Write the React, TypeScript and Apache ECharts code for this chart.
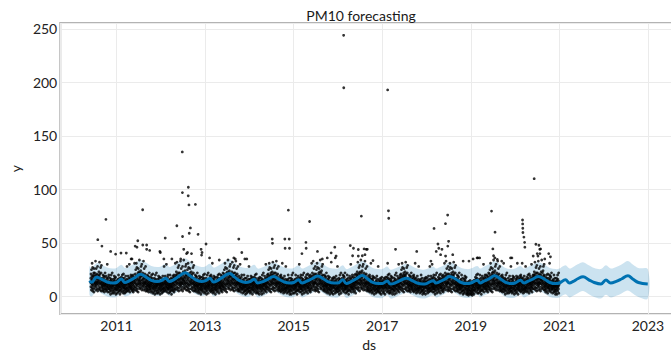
import React, { useEffect, useRef } from "react";
import * as echarts from "echarts";

const TITLE = "PM10 forecasting";
const X_NAME = "ds";
const Y_NAME = "y";
const X_TICK_YEARS = [2011, 2013, 2015, 2017, 2019, 2021, 2023];
const Y_TICKS = [0, 50, 100, 150, 200, 250];

// Monthly blocks of daily readings (24 per month), base-36 digits (0..35)
const W1 = "7c4a9eh6b2f8dk5g9ca7m3eb";
const W2 = "a5d8g3cb6ej9f4h7bc8i2da6";
const W3 = "8b6e3fa9c7gd4k8b5ae9h6c2";
const W4 = "9d5bh7c3ea8f6jb4d7c9g5s8";
const W5 = "6a9c4fd8b3e7hc5a9g2db8ie";
const M1 = "9d6fb8i4cgae7kd5h9bf3ld8";
const M2 = "bf7dj5ce9ha6uc8g4eb9id7k";
const M3 = "a8gc6e9jd5hb7fk4cia8e6gv";
const M4 = "ce9ha7f5kb8dg6jca4ie9bm7";
const S1 = "dh9lf6pcj8vbgr5iae7kmc4q";
const S2 = "fj8mdagcxh6kbqe9ildc7gs5";
const S3 = "eibkg7ndj9wfcl6h8rgdmb5t";
const S4 = "gkcnf9yeib7mhd8ofscjaku6";
const L1 = "3a5c28b47d1e69a3c5b8f2d6";

const BULK_YEARS = [2010, 2011, 2012, 2013, 2014, 2015, 2016, 2017, 2018, 2019, 2020];
const BULK_FIRST_MONTH = [6, 1, 1, 1, 1, 1, 1, 1, 1, 1, 1];
const BULK_MONTHS: string[][] = [
  [S1, S2, S3, M4, M2, W1, W2],
  [W3, M1, W4, M2, M3, S1, S4, S2, M4, M1, W1, W2],
  [W4, M2, W3, M3, S3, S2, S4, S1, S3, M4, W2, M1],
  [W1, M3, W2, M1, M4, S1, S4, S3, S2, M2, W3, W4],
  [W2, M1, W5, W1, M2, S1, S3, S2, M3, W4, W3, W1],
  [W3, M2, W1, M1, M3, S2, S1, S4, M4, W2, W5, W4],
  [W1, M4, W3, M2, M1, S3, S4, S2, M3, W2, W4, W5],
  [W5, M1, W2, W1, M2, S1, S3, M4, M3, W4, W3, W5],
  [W4, M2, W1, M1, M3, S2, S1, S3, M4, W3, W2, L1],
  [L1, M1, W3, M2, M4, S1, S4, S2, M3, W1, W4, W2],
  [W2, M3, W4, M1, M2, S3, S2, S4, M1, M4, W3, W1],
];

// Readings above the dense cloud
const OUTLIER_DATES = [
  "2010-07-30", "2010-09-02", "2010-10-05", "2010-12-24", "2011-02-06", "2011-03-22", "2011-05-01", "2011-06-03",
  "2011-06-25", "2011-08-04", "2011-09-06", "2011-10-01", "2011-12-24", "2011-12-28", "2012-02-06", "2012-05-12",
  "2012-06-28", "2012-06-27", "2012-06-26", "2012-08-15", "2012-08-14", "2012-08-20", "2012-10-12", "2012-09-01",
  "2012-08-22", "2012-08-08", "2012-07-08", "2012-11-03", "2012-12-06", "2013-01-08", "2012-12-02", "2013-02-06",
  "2013-04-27", "2013-10-05", "2013-10-30", "2013-08-25", "2013-11-24", "2014-07-08", "2014-07-10", "2014-10-20",
  "2014-11-25", "2014-10-22", "2014-11-27", "2014-11-18", "2015-03-10", "2015-04-12", "2015-04-14", "2015-05-12",
  "2015-07-16", "2015-11-06", "2015-12-06", "2015-12-10", "2016-02-17", "2016-02-18", "2016-04-12", "2016-05-01",
  "2016-06-17", "2016-07-12", "2016-07-20", "2016-08-04", "2016-08-11", "2016-08-22", "2017-02-14", "2017-02-21",
  "2017-02-23", "2017-04-20", "2017-10-12", "2018-03-04", "2018-04-05", "2018-04-12", "2018-03-22", "2018-04-27",
  "2018-06-06", "2018-06-24", "2018-07-02", "2018-06-25", "2018-08-05", "2019-03-01", "2019-06-21", "2019-07-20",
  "2019-07-02", "2019-07-08", "2019-08-08", "2019-12-06", "2020-03-03", "2020-03-04", "2020-03-05", "2020-03-06",
  "2020-03-14", "2020-03-20", "2020-03-22", "2020-06-07", "2020-07-16", "2020-07-30", "2020-07-24", "2020-07-08",
  "2020-10-05", "2020-10-19",
];
const OUTLIER_VALUES = [
  53, 47, 72, 39.5, 40.5, 40.5, 35, 47,
  52, 81, 48, 43, 42, 41, 54.5, 66,
  56, 97, 135, 102, 94, 85.5, 86, 64,
  59, 41, 44, 58, 41, 49, 38.6, 36,
  34, 53.6, 41, 36, 35, 53.6, 49.6, 53.6,
  53.6, 45, 45, 80.6, 40, 50.5, 45, 70,
  42, 40.7, 46, 36, 244, 195, 47.5, 38,
  43.8, 75, 38, 44.4, 39, 44, 193, 80,
  73, 44, 42, 63.5, 49, 45, 42, 39,
  68, 76, 51.5, 47, 39, 36, 79.7, 60,
  44.4, 38, 34.6, 36, 71.4, 67.7, 63.7, 59.7,
  55.4, 50.5, 46, 110, 47.8, 44.4, 40, 37.7,
  40, 37,
];

// Scattered readings just above the dense cloud (30-50)
const MID_DATES = [
  "2010-11-13", "2011-05-08", "2011-06-18", "2011-08-05", "2011-09-06", "2012-01-26", "2012-04-01", "2012-06-13",
  "2012-07-31", "2012-09-10", "2012-11-28", "2013-09-06", "2013-12-10", "2015-08-25", "2015-10-05", "2015-11-07",
  "2015-12-17", "2016-05-08", "2016-06-17", "2016-08-30", "2016-10-16", "2017-02-14", "2018-02-06", "2018-05-08",
  "2018-06-07", "2018-10-30", "2018-12-17", "2019-01-20", "2019-02-22", "2019-03-15", "2019-07-19", "2019-09-13",
  "2019-11-25", "2020-01-20", "2020-06-21", "2020-07-23", "2020-09-02", "2020-10-12", "2020-05-30", "2020-07-02",
];
const MID_VALUES = [
  42, 35, 46, 48, 44, 35, 35, 35,
  40, 40, 44, 35, 35, 35, 36, 32,
  37.7, 45, 37.7, 44, 33.5, 31, 33, 44,
  37.7, 33, 33, 35, 36, 36, 36, 33,
  36, 31, 48.7, 44, 35, 31, 37.7, 40,
];

// Fitted / forecast values (yhat) and interval bounds
const FC_DATES = [
  "2010-05-22", "2010-06-10", "2010-07-20", "2010-09-01", "2010-10-15", "2010-12-01",
  "2011-01-01", "2011-02-10", "2011-03-10", "2011-04-15", "2011-06-01", "2011-07-15", "2011-09-01", "2011-10-15", "2011-12-01",
  "2012-01-01", "2012-02-10", "2012-03-10", "2012-04-15", "2012-06-01", "2012-07-20", "2012-09-01", "2012-10-15", "2012-12-01",
  "2013-01-01", "2013-02-10", "2013-03-10", "2013-04-15", "2013-06-01", "2013-07-20", "2013-09-01", "2013-10-15", "2013-12-01",
  "2014-01-01", "2014-02-10", "2014-03-10", "2014-04-15", "2014-06-01", "2014-07-20", "2014-09-01", "2014-10-15", "2014-12-01",
  "2015-01-01", "2015-02-10", "2015-03-10", "2015-04-15", "2015-06-01", "2015-07-20", "2015-09-01", "2015-10-15", "2015-12-01",
  "2016-01-01", "2016-02-10", "2016-03-10", "2016-04-15", "2016-06-01", "2016-07-20", "2016-09-01", "2016-10-15", "2016-12-01",
  "2017-01-01", "2017-02-10", "2017-03-10", "2017-04-15", "2017-06-01", "2017-07-20", "2017-09-01", "2017-10-15", "2017-12-01",
  "2018-01-01", "2018-02-25", "2018-03-20", "2018-04-15", "2018-06-01", "2018-07-10", "2018-09-01", "2018-10-15", "2018-12-01",
  "2019-01-01", "2019-02-25", "2019-03-20", "2019-04-15", "2019-06-01", "2019-07-15", "2019-09-01", "2019-10-15", "2019-12-01",
  "2020-01-01", "2020-02-15", "2020-03-15", "2020-04-15", "2020-06-01", "2020-07-10", "2020-09-01", "2020-10-15", "2020-12-01",
  "2021-01-01", "2021-02-20", "2021-03-25", "2021-04-25", "2021-06-01", "2021-07-15", "2021-09-01", "2021-10-15", "2021-12-10",
  "2022-01-20", "2022-02-28", "2022-04-15", "2022-06-01", "2022-07-20", "2022-09-01", "2022-10-15", "2022-12-31",
];
const FC_YHAT = [
  14.7, 13.2, 17.8, 16, 13.5, 12.5,
  13, 16.3, 13, 14.5, 17.5, 20.8, 18, 15, 14,
  14.5, 17, 14, 15.5, 19, 22, 19, 15.5, 14,
  14.5, 17, 13.5, 15, 18.5, 21.5, 18, 14.5, 13,
  13.5, 16, 12.5, 13.5, 16, 18.5, 16, 13.5, 12.5,
  13, 15.5, 12.5, 14, 16.5, 19, 16.5, 13.5, 12.5,
  12.5, 15.5, 12, 13.5, 16.5, 19.5, 16.5, 13, 12,
  12, 14.5, 11.5, 12.5, 15, 17, 15, 12.5, 11.5,
  12, 14.7, 12.5, 13.5, 16, 18.7, 16, 13, 12,
  12.5, 15, 12.5, 14, 16.5, 19.3, 16.5, 13, 12,
  12.5, 15, 12.5, 14, 16.5, 18.7, 16, 13, 12,
  12.5, 15.5, 12.5, 14, 16.5, 18.4, 15.5, 13, 11.6,
  15.3, 12.5, 14, 16.5, 19.3, 16, 13, 11.6,
];
const FC_LOWER = [
  1.5, 0, 4.5, 2.5, 0, -1,
  -0.5, 3, 0, 1, 4, 7.5, 4.5, 1.5, 0.5,
  1, 3.5, 0.5, 2, 5.5, 8.5, 5.5, 2, 0.5,
  1, 3.5, 0, 1.5, 5, 8, 4.5, 1, -0.5,
  0, 2.5, -1, 0, 2.5, 5, 2.5, 0, -1,
  -0.5, 2, -1, 0.5, 3, 5.5, 3, 0, -1,
  -1, 2, -1.5, 0, 3, 6, 3, -0.5, -1.5,
  -1.5, 1, -2, -1, 1.5, 3.5, 1.5, -1, -2,
  -1.5, 1, -1, 0, 2.5, 5, 2.5, -0.5, -1.5,
  -1, 1.5, -1, 0.5, 3, 6, 3, -0.5, -1.5,
  -1, 1.5, -1, 0.5, 3, 5, 2.5, -0.5, -1.5,
  -1, 2, -1, 0.5, 3, 5, 2, -0.5, -2,
  1.5, -1, 0.5, 3, 5.5, 2.5, -0.5, -2,
];
const FC_UPPER = [
  28, 26.5, 31, 29.5, 27, 26,
  26.5, 29.5, 26.5, 28, 31, 34, 31.5, 28.5, 27.5,
  28, 30.5, 27.5, 29, 32.5, 35.5, 32.5, 29, 27.5,
  28, 30.5, 27, 28.5, 32, 35, 31.5, 28, 26.5,
  27, 29.5, 26, 27, 29.5, 32, 29.5, 27, 26,
  26.5, 29, 26, 27.5, 30, 32.5, 30, 27, 26,
  26, 29, 25.5, 27, 30, 33, 30, 26.5, 25.5,
  25.5, 28, 25, 26, 28.5, 30.5, 28.5, 26, 25,
  25.5, 28, 26, 27, 29.5, 32, 29.5, 26.5, 25.5,
  26, 28.5, 26, 27.5, 30, 33, 30, 26.5, 25.5,
  26, 28.5, 26, 27.5, 30, 32, 29.5, 26.5, 25.5,
  26, 29, 26, 27.5, 30, 32, 29, 26.5, 25.5,
  29, 26, 27.5, 30, 33, 29.5, 26.5, 25.5,
];

const EPOCH = Date.UTC(2011, 0, 1);
const YEAR_MS = 365.25 * 86400000;
const toX = (y: number, m: number, d: number) => (Date.UTC(y, m - 1, d) - EPOCH) / YEAR_MS;
const isoToX = (iso: string) => {
  const [y, m, d] = iso.split("-").map(Number);
  return toX(y, m, d);
};

function buildPoints(): number[][] {
  const pts: number[][] = [];
  BULK_MONTHS.forEach((row, r) => {
    const year = BULK_YEARS[r];
    row.forEach((s, j) => {
      const month = BULK_FIRST_MONTH[r] + j;
      for (let i = 0; i < s.length; i++) {
        const day = 1 + Math.floor((i * 30) / s.length);
        pts.push([toX(year, month, day), parseInt(s[i], 36)]);
      }
    });
  });
  OUTLIER_DATES.forEach((d, i) => pts.push([isoToX(d), OUTLIER_VALUES[i]]));
  MID_DATES.forEach((d, i) => pts.push([isoToX(d), MID_VALUES[i]]));
  return pts;
}

export default function App() {
  const ref = useRef<HTMLDivElement>(null);
  useEffect(() => {
    if (!ref.current) return;
    const chart = echarts.init(ref.current, undefined, { renderer: "svg" });
    const fx = FC_DATES.map(isoToX);
    const font = "Lato";
    const textColor = "#222222";
    chart.setOption({
      animation: false,
      backgroundColor: "#ffffff",
      grid: { left: 43, top: 23, right: 2, bottom: 37, show: true, borderColor: "#b3b3b3", borderWidth: 2, backgroundColor: "transparent" },
      graphic: [
        { type: "text", x: 361, y: 15, style: { text: TITLE, font: `14px ${font}`, fill: "#1a1a1a", textAlign: "center", textVerticalAlign: "middle" } },
      ],
      xAxis: {
        type: "value",
        min: -1.2724,
        max: 12.68,
        splitNumber: 7,
        minInterval: 2,
        maxInterval: 2,
        axisLine: { show: false },
        axisTick: { show: false },
        splitLine: { show: true, lineStyle: { color: "#ebebeb", width: 1 } },
        axisLabel: {
          margin: 4,
          fontFamily: font,
          fontSize: 14,
          color: textColor,
          formatter: (v: number) => {
            const yr = Math.round(2011 + v);
            return Math.abs(2011 + v - yr) < 1e-6 && X_TICK_YEARS.includes(yr) ? String(yr) : "";
          },
        },
        name: X_NAME,
        nameLocation: "middle",
        nameGap: 18,
        nameTextStyle: { fontFamily: font, fontSize: 14, color: textColor, verticalAlign: "top" },
      },
      yAxis: {
        type: "value",
        min: -16.54,
        max: 255.5,
        splitNumber: 5,
        minInterval: 50,
        maxInterval: 50,
        axisLine: { show: false },
        axisTick: { show: false },
        splitLine: { show: true, lineStyle: { color: "#ebebeb", width: 1 } },
        axisLabel: {
          margin: 3,
          fontFamily: font,
          fontSize: 14,
          color: textColor,
          formatter: (v: number) => (Y_TICKS.includes(v) ? String(v) : ""),
        },
        name: Y_NAME,
        nameLocation: "middle",
        nameGap: 38,
        nameTextStyle: { fontFamily: font, fontSize: 14, color: textColor },
      },
      series: [
        {
          type: "custom",
          name: "band",
          data: [0],
          clip: true,
          silent: true,
          z: 1,
          renderItem: (_params: any, api: any) => {
            const top = fx.map((x, i) => api.coord([x, FC_UPPER[i]]));
            const bot = fx.map((x, i) => api.coord([x, FC_LOWER[i]])).reverse();
            return {
              type: "polygon",
              shape: { points: top.concat(bot), smooth: 0.35 },
              style: { fill: "rgba(0,114,178,0.2)", stroke: "none" },
            };
          },
        },
        {
          type: "scatter",
          name: "Actual",
          data: buildPoints(),
          symbol: "circle",
          symbolSize: 2.8,
          itemStyle: { color: "#000000" },
          silent: true,
          z: 2,
        },
        {
          type: "line",
          name: "Predicted",
          data: fx.map((x, i) => [x, FC_YHAT[i]]),
          symbol: "none",
          smooth: 0.4,
          lineStyle: { color: "#0072B2", width: 3 },
          silent: true,
          z: 3,
        },
      ],
    });
    return () => chart.dispose();
  }, []);
  return (
    <div style={{ position: "fixed", left: 0, top: 0, width: 671, height: 356, overflow: "hidden", background: "#fff" }}>
      <div ref={ref} style={{ width: 681, height: 356 }} />
    </div>
  );
}
